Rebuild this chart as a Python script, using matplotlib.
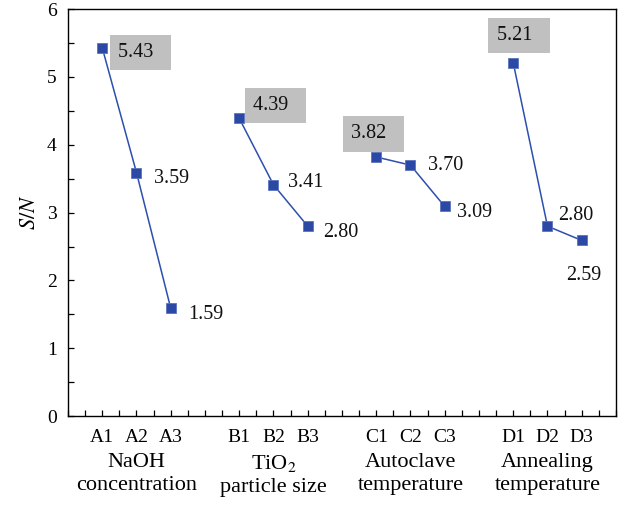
import numpy as np
import matplotlib
matplotlib.use('Agg')
from matplotlib import pyplot as plt

plt.rcParams['font.family'] = ['Liberation Serif', 'DejaVu Serif']
plt.rcParams['mathtext.fontset'] = 'stix'

# data
levels = [['A1', 'A2', 'A3'], ['B1', 'B2', 'B3'], ['C1', 'C2', 'C3'], ['D1', 'D2', 'D3']]
sn_values = [[5.43, 3.59, 1.59], [4.39, 3.41, 2.80], [3.82, 3.70, 3.09], [5.21, 2.80, 2.59]]
factors = ['NaOH\nconcentration', 'TiO$_2$\nparticle size', 'Autoclave\ntemperature', 'Annealing\ntemperature']
group_x = [[1, 2, 3], [5, 6, 7], [9, 10, 11], [13, 14, 15]]

# label offsets (pixels) and whether boxed
label_offsets = [[(38, -5), (35, -6), (35, -6)],
                 [(36, 13), (32, 2), (33, -6)],
                 [(-3, 23), (35, 0), (30, -6)],
                 [(6, 27), (28, 11), (2, -35)]]
boxed = [[True, False, False], [True, False, False], [True, False, False], [True, False, False]]

line_col = '#2d4fae'
marker_col = '#2a48a4'
fs = 14.5

fig = plt.figure(figsize=(6.22, 5.05), dpi=100)
ax = fig.add_axes([0.1093, 0.176, 0.881, 0.806])

for xs, ys, offs, bx in zip(group_x, sn_values, label_offsets, boxed):
    ax.plot(xs, ys, color=line_col, lw=1.1, marker='s', ms=7.5,
            mfc=marker_col, mec='#5a74c0', mew=0.6)
    for x, y, off, b in zip(xs, ys, offs, bx):
        txt = '%.2f' % y
        kw = {}
        if b:
            txt = txt + '  '
            kw['bbox'] = dict(boxstyle='square,pad=0.4', fc='#c0c0c0', ec='none')
        ax.annotate(txt, xy=(x, y), xytext=off, textcoords='offset pixels',
                    ha='center', va='center', fontsize=fs, color='#111111', **kw)

ax.set_xlim(0, 16)
ax.set_ylim(0, 6)

all_x = [x for g in group_x for x in g]
all_lab = [l for g in levels for l in g]
ax.set_xticks(all_x)
ax.set_xticklabels(all_lab, fontsize=14)
ax.set_xticks(np.arange(0, 16.01, 0.5), minor=True)
ax.set_yticks(np.arange(0, 7, 1))
ax.set_yticks(np.arange(0, 6.01, 0.5), minor=True)
ax.tick_params(axis='y', labelsize=14)

ax.tick_params(which='both', direction='in', length=4, width=0.9, top=False, right=False)
ax.tick_params(axis='x', which='major', pad=9)
ax.tick_params(axis='y', which='major', pad=8)
for s in ax.spines.values():
    s.set_linewidth(1.0)

for g, name in zip(group_x, factors):
    ax.annotate(name, xy=(g[1], 0), xycoords=('data', 'axes fraction'),
                xytext=(0, -37), textcoords='offset pixels',
                ha='center', va='top', fontsize=16, linespacing=1.25)

ax.set_ylabel('$S/N$', fontsize=16, labelpad=5)

fig.savefig('out.png', dpi=100)
